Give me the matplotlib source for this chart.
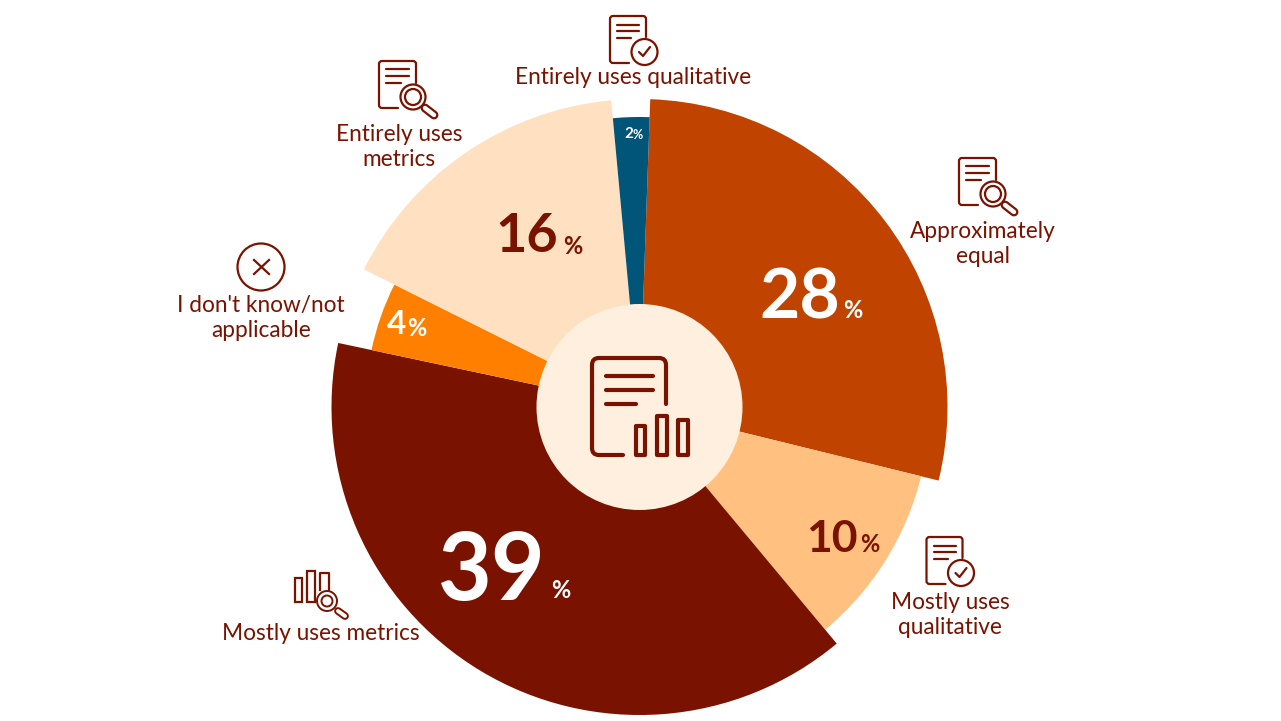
import matplotlib
matplotlib.use('Agg')
import matplotlib.pyplot as plt
from matplotlib.patches import Wedge, Circle, Rectangle
from matplotlib.path import Path
from matplotlib.patches import PathPatch

# slices, clockwise from the top
values = [28, 10, 39, 4, 16, 2]
radii = [308, 290, 308, 274, 308, 290]
colors = ['#C04400', '#FFC080', '#7A1200', '#FF8000', '#FFE0C0', '#005578']
pct_colors = ['white', '#7A1200', 'white', 'white', '#7A1200', 'white']

labels = ['Approximately\nequal', 'Mostly uses\nqualitative', 'Mostly uses metrics',
          "I don't know/not\napplicable", 'Entirely uses\nmetrics', 'Entirely uses qualitative']
label_x = [983, 950, 321, 261, 399, 633]
label_y = [244, 615, 633, 318, 147, 78]

# number position (right edge, centre y), size, then % sign position and size
num_x = [840, 858, 546, 406, 558, 633]
num_y = [293, 536, 565, 322, 232, 133]
num_size = [50, 32, 67, 24, 39, 11]
pct_x = [853, 870, 561, 417, 573, 638]
pct_y = [309, 543, 589, 326, 245, 134]
pct_size = [17, 17, 17, 17, 17, 9]

dark = '#7A1200'
cx, cy = 639.5, 407
start = 2

fig = plt.figure(figsize=(12.81, 7.21), dpi=100)
ax = fig.add_axes([0, 0, 1, 1])
ax.set_xlim(0, 1281)
ax.set_ylim(721, 0)
ax.axis('off')
plt.rcParams['font.family'] = ['Lato', 'DejaVu Sans']


def document(x0, y0, x1, y1, end_x, end_y, lw, r=4):
    # page outline, open at the lower right corner
    verts = [(end_x, y1), (x0 + r, y1), (x0, y1), (x0, y1 - r), (x0, y0 + r), (x0, y0), (x0 + r, y0),
             (x1 - r, y0), (x1, y0), (x1, y0 + r), (x1, end_y)]
    codes = [Path.MOVETO, Path.LINETO, Path.CURVE3, Path.CURVE3, Path.LINETO, Path.CURVE3, Path.CURVE3,
             Path.LINETO, Path.CURVE3, Path.CURVE3, Path.LINETO]
    ax.add_patch(PathPatch(Path(verts, codes), fill=False, ec=dark, lw=lw, capstyle='round', zorder=5))


def text_lines(x0, x1, x2, ys, lw):
    for i, y in enumerate(ys):
        ax.plot([x0, x2 if i == 2 else x1], [y, y], color=dark, lw=lw, solid_capstyle='round', zorder=5)


def check_doc(dx, dy):
    document(610 + dx, 16 + dy, 646 + dx, 63 + dy, 629 + dx, 37 + dy, 1.6, 3)
    text_lines(617 + dx, 639 + dx, 631 + dx, [25 + dy, 31 + dy, 38 + dy], 1.6)
    ax.add_patch(Circle((644.5 + dx, 52 + dy), 13, fc='white', ec=dark, lw=1.6, zorder=6))
    ax.plot([639 + dx, 643 + dx, 650 + dx], [52 + dy, 56 + dy, 47 + dy], color=dark, lw=1.6, zorder=7,
            solid_capstyle='round')


def lens(x, y, r, hx0, hy0, hx1, hy1, lw, inner):
    ax.plot([hx0, hx1], [hy0, hy1], color=dark, lw=lw * 4, solid_capstyle='round', zorder=6)
    ax.plot([hx0, hx1], [hy0, hy1], color='white', lw=lw * 2, solid_capstyle='round', zorder=6)
    ax.add_patch(Circle((x, y), r, fc='white', ec=dark, lw=lw, zorder=7))
    ax.add_patch(Circle((x, y), inner, fc='white', ec=dark, lw=lw, zorder=7))


def search_doc(dx, dy):
    document(379 + dx, 61 + dy, 416 + dx, 108 + dy, 398 + dx, 83 + dy, 1.6, 3)
    text_lines(386 + dx, 409 + dx, 401 + dx, [69 + dy, 76 + dy, 83 + dy], 1.6)
    lens(413 + dx, 97 + dy, 12.5, 425 + dx, 108 + dy, 434 + dx, 115 + dy, 1.6, 8)


# slices
angle = start
total = sum(values)
for v, r, c in zip(values, radii, colors):
    sweep = v / total * 360
    ax.add_patch(Wedge((cx, cy), r, angle - 90, angle + sweep - 90, fc=c, ec='none', zorder=2))
    angle += sweep

# centre disc and its icon
ax.add_patch(Circle((cx, cy), 103, fc='#FFEFDF', ec='none', zorder=3))
document(592, 358, 666, 455, 623, 404, 3, 7)
text_lines(606, 653, 636, [376, 390, 404], 3)
for x0, x1, y0 in [(636, 645, 426), (657, 667, 416), (678, 688, 420)]:
    ax.add_patch(Rectangle((x0, y0), x1 - x0, 455 - y0, fill=False, ec=dark, lw=3, joinstyle='round', zorder=5))

# small icons
check_doc(0, 0)
check_doc(316.5, 521)
search_doc(0, 0)
search_doc(580, 97)

ax.add_patch(Circle((261, 267), 23.5, fill=False, ec=dark, lw=1.6, zorder=5))
ax.plot([254, 269], [260, 274], color=dark, lw=1.6, zorder=5)
ax.plot([254, 269], [274, 260], color=dark, lw=1.6, zorder=5)

# bars with lens
ax.add_patch(Rectangle((295, 578), 7, 24, fill=False, ec=dark, lw=1.6, zorder=5))
ax.add_patch(Rectangle((307, 571), 8, 31, fill=False, ec=dark, lw=1.6, zorder=5))
ax.plot([320, 320, 329, 329], [590, 573, 573, 592], color=dark, lw=1.6, zorder=5)
lens(327, 601, 10, 338, 611, 345, 616, 1.4, 5.5)

# text
for t, x, y in zip(labels, label_x, label_y):
    ax.text(x, y, t, ha='center', va='center', fontsize=16.3, color=dark, linespacing=1.27, zorder=8)

for i, v in enumerate(values):
    ax.text(num_x[i], num_y[i], str(v), ha='right', va='center_baseline', fontsize=num_size[i],
            fontweight='bold', color=pct_colors[i], zorder=8)
    ax.text(pct_x[i], pct_y[i], '%', ha='center', va='center_baseline', fontsize=pct_size[i],
            fontweight='bold', color=dark if pct_colors[i] == dark else 'white', zorder=8)

fig.savefig('out.png', dpi=100)
